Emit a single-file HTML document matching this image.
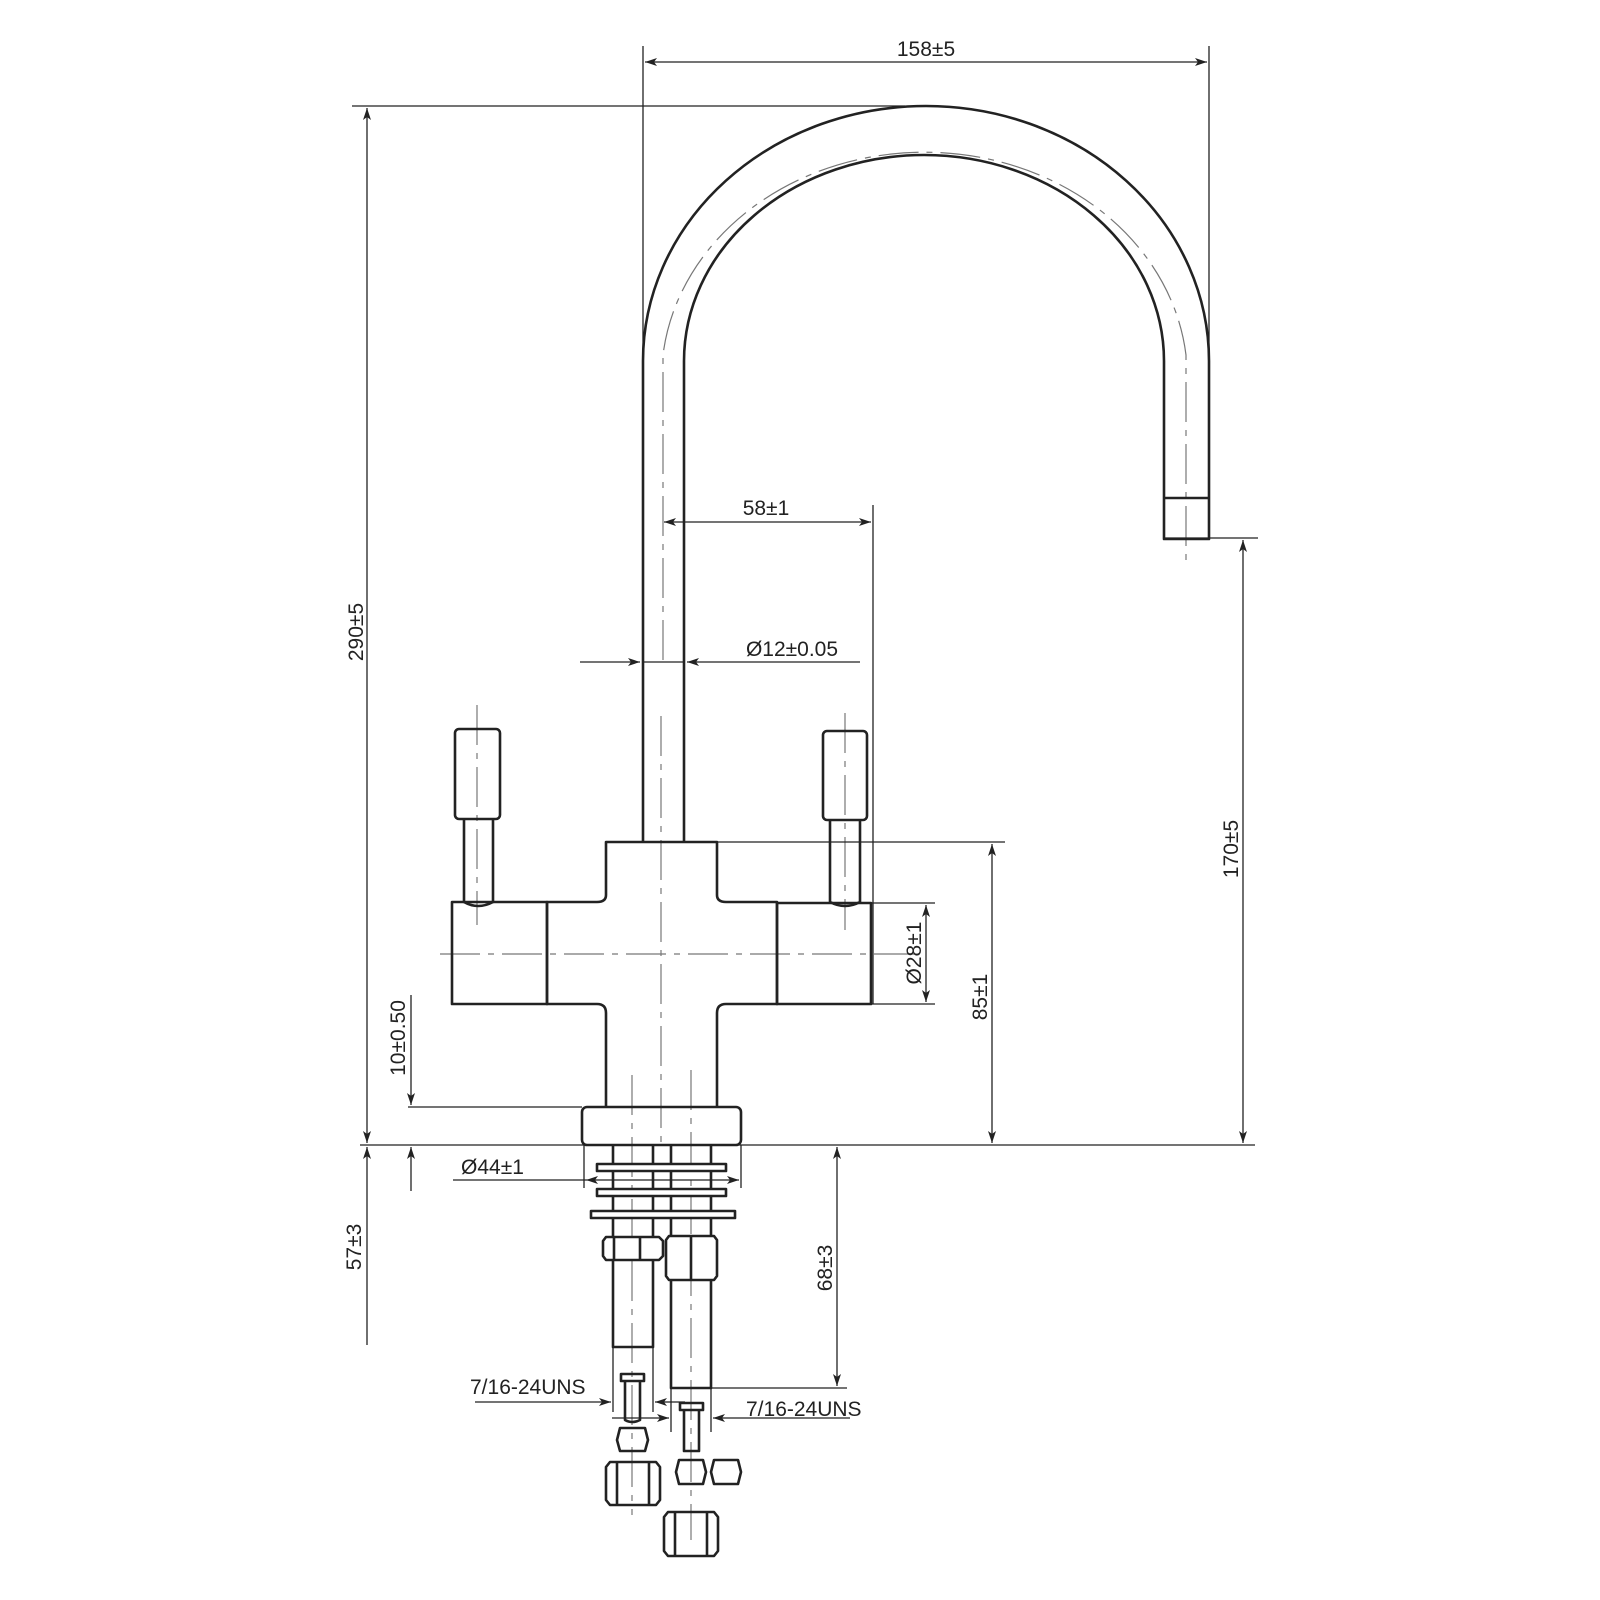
<!DOCTYPE html>
<html><head><meta charset="utf-8"><style>
html,body{margin:0;padding:0;background:#fff;}
svg{display:block}
text{font-family:"Liberation Sans",sans-serif;font-size:21px;fill:#222}
</style></head><body>
<svg width="1600" height="1600" viewBox="0 0 1600 1600" xmlns="http://www.w3.org/2000/svg">
<defs>
<marker id="a" viewBox="0 0 12 8" refX="12" refY="4" markerWidth="12" markerHeight="8" orient="auto-start-reverse" markerUnits="userSpaceOnUse"><path d="M0,0 L12,4 L0,8 L3,4z" fill="#222"/></marker>
</defs>
<g fill="none" stroke="#777" stroke-width="1.2" stroke-dasharray="40,8,6,8">
<path d="M663,660 V355 A263,227 0 0 1 1186,355 V566"/>
<line x1="661" y1="716" x2="661" y2="1150"/>
<line x1="440" y1="954" x2="915" y2="954"/>
<line x1="477" y1="705" x2="477" y2="925"/>
<line x1="845" y1="713" x2="845" y2="930"/>
<line x1="632" y1="1075" x2="632" y2="1515"/>
<line x1="691" y1="1070" x2="691" y2="1540"/>
</g>
<g fill="none" stroke="#222" stroke-width="2.6" stroke-linejoin="round">
<path d="M643,842 V361 A283,255 0 0 1 1209,361 V539 H1164 V361 A240,206 0 0 0 684,361 V842"/>
<line x1="1164" y1="498" x2="1209" y2="498"/>
<path d="M606,1107 V1013 Q606,1004 597,1004 H547 V902 H597 Q606,902 606,895 V842 H717 V895 Q717,902 726,902 H777 V1004 H726 Q717,1004 717,1013 V1107"/>
<rect x="452" y="902" width="95" height="102"/>
<rect x="777" y="903" width="94" height="101"/>
<rect x="455" y="729" width="45" height="90" rx="4"/>
<path d="M464,819 V902 Q478,910 493,902 V819"/>
<rect x="823" y="731" width="44" height="89" rx="4"/>
<path d="M830,820 V902 Q845,910 860,902 V820"/>
<rect x="582" y="1107" width="159" height="38" rx="5"/>
<path d="M613,1145 V1347 H653 V1145"/>
<path d="M671,1145 V1388 H711 V1145"/>
<rect x="597" y="1164" width="129" height="7" fill="#fff"/>
<rect x="597" y="1189" width="129" height="7" fill="#fff"/>
<rect x="591" y="1211" width="144" height="7" fill="#fff"/>
<path d="M606,1237 H659 L663,1241 V1256 L659,1260 H606 L603,1256 V1241 Z" fill="#fff"/>
<line x1="640" y1="1237" x2="640" y2="1260"/><line x1="614" y1="1237" x2="614" y2="1260"/>
<path d="M669,1236 H714 L717,1240 V1276 L714,1280 H669 L666,1276 V1240 Z" fill="#fff"/>
<line x1="691" y1="1236" x2="691" y2="1280"/>
<rect x="621" y="1374" width="23" height="7"/>
<path d="M625,1381 V1420 Q632,1424 640,1420 V1381"/>
<path d="M620,1428 H645 L648,1440 L645,1451 H620 L617,1440 Z"/>
<path d="M610,1462 H656 L660,1467 V1500 L656,1505 H610 L606,1500 V1467 Z"/>
<line x1="617" y1="1462" x2="617" y2="1505"/><line x1="649" y1="1462" x2="649" y2="1505"/>
<rect x="680" y="1403" width="23" height="7"/>
<path d="M684,1410 V1451 H699 V1410"/>
<path d="M679,1460 H703 L706,1472 L703,1484 H679 L676,1472 Z"/>
<path d="M714,1460 H738 L741,1472 L738,1484 H714 L711,1472 Z"/>
<path d="M668,1512 H714 L718,1517 V1551 L714,1556 H668 L664,1551 V1517 Z"/>
<line x1="675" y1="1512" x2="675" y2="1556"/><line x1="707" y1="1512" x2="707" y2="1556"/>
</g>
<g fill="none" stroke="#222" stroke-width="1.3">
<line x1="643" y1="46" x2="643" y2="361"/>
<line x1="1209" y1="46" x2="1209" y2="361"/>
<line x1="645" y1="62" x2="1207" y2="62" marker-start="url(#a)" marker-end="url(#a)"/>
<line x1="352" y1="106" x2="905" y2="106"/>
<line x1="367" y1="108" x2="367" y2="1143" marker-start="url(#a)" marker-end="url(#a)"/>
<line x1="367" y1="1147" x2="367" y2="1345" marker-start="url(#a)"/>
<line x1="360" y1="1145" x2="1255" y2="1145"/>
<line x1="873" y1="505" x2="873" y2="1004"/>
<line x1="664" y1="522" x2="871" y2="522" marker-start="url(#a)" marker-end="url(#a)"/>
<line x1="580" y1="662" x2="640" y2="662" marker-end="url(#a)"/>
<line x1="643" y1="662" x2="684" y2="662"/>
<line x1="860" y1="662" x2="687" y2="662" marker-end="url(#a)"/>
<line x1="1164" y1="538" x2="1258" y2="538"/>
<line x1="1243" y1="540" x2="1243" y2="1143" marker-start="url(#a)" marker-end="url(#a)"/>
<line x1="717" y1="842" x2="1005" y2="842"/>
<line x1="992" y1="844" x2="992" y2="1143" marker-start="url(#a)" marker-end="url(#a)"/>
<line x1="871" y1="903" x2="935" y2="903"/>
<line x1="871" y1="1004" x2="935" y2="1004"/>
<line x1="926" y1="905" x2="926" y2="1002" marker-start="url(#a)" marker-end="url(#a)"/>
<line x1="408" y1="1107" x2="582" y2="1107"/>
<line x1="411" y1="995" x2="411" y2="1105" marker-end="url(#a)"/>
<line x1="411" y1="1191" x2="411" y2="1147" marker-end="url(#a)"/>
<line x1="584" y1="1145" x2="584" y2="1188"/>
<line x1="741" y1="1145" x2="741" y2="1188"/>
<line x1="453" y1="1180" x2="586" y2="1180"/>
<line x1="586" y1="1180" x2="739" y2="1180" marker-start="url(#a)" marker-end="url(#a)"/>
<line x1="711" y1="1388" x2="847" y2="1388"/>
<line x1="837" y1="1147" x2="837" y2="1386" marker-start="url(#a)" marker-end="url(#a)"/>
<line x1="613" y1="1347" x2="613" y2="1412"/>
<line x1="653" y1="1347" x2="653" y2="1412"/>
<line x1="475" y1="1402" x2="611" y2="1402" marker-end="url(#a)"/>
<line x1="685" y1="1402" x2="655" y2="1402" marker-end="url(#a)"/>
<line x1="671" y1="1388" x2="671" y2="1432"/>
<line x1="711" y1="1388" x2="711" y2="1432"/>
<line x1="612" y1="1418" x2="669" y2="1418" marker-end="url(#a)"/>
<line x1="850" y1="1418" x2="713" y2="1418" marker-end="url(#a)"/>
</g>
<text x="926" y="56" text-anchor="middle">158±5</text>
<text x="766" y="515" text-anchor="middle">58±1</text>
<text x="792" y="656" text-anchor="middle">Ø12±0.05</text>
<text transform="translate(363,632) rotate(-90)" text-anchor="middle">290±5</text>
<text transform="translate(1238,849) rotate(-90)" text-anchor="middle">170±5</text>
<text transform="translate(987,997) rotate(-90)" text-anchor="middle">85±1</text>
<text transform="translate(921,953) rotate(-90)" text-anchor="middle">Ø28±1</text>
<text transform="translate(405,1038) rotate(-90)" text-anchor="middle">10±0.50</text>
<text transform="translate(361,1247) rotate(-90)" text-anchor="middle">57±3</text>
<text transform="translate(832,1268) rotate(-90)" text-anchor="middle">68±3</text>
<text x="461" y="1174">Ø44±1</text>
<text x="470" y="1394">7/16-24UNS</text>
<text x="746" y="1416">7/16-24UNS</text>
</svg>
</body></html>
